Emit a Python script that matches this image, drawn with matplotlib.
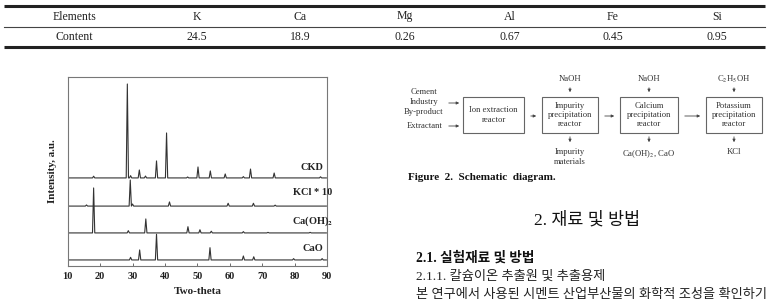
import matplotlib
matplotlib.use("Agg")
import matplotlib.pyplot as plt
from matplotlib.patches import Rectangle, FancyArrowPatch

plt.rcParams['mathtext.fontset'] = 'stix'

# ---------------- data ----------------
table_header = ["Elements", "K", "Ca", "Mg", "Al", "Fe", "Si"]
table_values = ["Content", "24.5", "18.9", "0.26", "0.67", "0.45", "0.95"]

two_theta_range = [10.5, 89.8]

ckd_base = 46.6
ckd_pos = [18.0, 28.4, 29.4, 32.1, 34.0, 37.4, 40.5, 47.0, 50.2, 54.0, 58.6, 64.2, 66.4, 73.7, 88.0]
ckd_hgt = [47.5, 96.3, 47.8, 50.8, 47.6, 55.6, 70.4, 47.1, 52.4, 50.3, 48.7, 47.3, 51.3, 49.2, 47.2]

kcl_base = 31.7
kcl_pos = [15.8, 29.3, 30.0, 41.4, 59.5, 67.3, 74.0]
kcl_hgt = [32.3, 45.5, 32.8, 33.9, 33.2, 33.2, 32.2]

caoh_base = 17.5
caoh_pos = [18.0, 28.7, 34.1, 47.1, 50.8, 54.3, 64.2, 71.8, 84.8]
caoh_hgt = [41.3, 18.7, 24.9, 20.8, 19.2, 18.4, 18.2, 17.8, 17.8]

cao_base = 3.2
cao_pos = [29.4, 32.2, 37.4, 53.9, 64.2, 67.4, 79.7, 88.5]
cao_hgt = [4.6, 8.5, 16.8, 9.7, 5.3, 4.9, 3.9, 3.9]

trace_labels = ["CKD", "KCl * 10", r"Ca(OH)$_\mathbf{2}$", "CaO"]
trace_label_y = [52.0, 39.0, 23.5, 9.5]
x_ticks = [10, 20, 30, 40, 50, 60, 70, 80, 90]

flow_inputs = ["Cement\nIndustry\nBy-product", "Extractant"]
flow_boxes = ["Ion extraction\nreactor", "Impurity\nprecipitation\nreactor",
              "Calcium\nprecipitation\nreactor", "Potassium\nprecipitation\nreactor"]
flow_top = [None, "NaOH", "NaOH", r"C$_2$H$_5$OH"]
flow_bottom = [None, "Impurity\nmaterials", r"Ca(OH)$_2$, CaO", "KCl"]

# ---------------- figure ----------------
W, H = 769, 307
fig = plt.figure(figsize=(W / 100, H / 100), dpi=100)
fig.patch.set_facecolor('white')

serif = ['Liberation Serif', 'DejaVu Serif']
kfam = ['Liberation Serif', 'Noto Sans CJK KR']

# overlay in pixel coordinates
ov = fig.add_axes([0, 0, 1, 1])
ov.set_xlim(0, W)
ov.set_ylim(H, 0)
ov.axis('off')

# table
ov.plot([4, 765], [5.5, 5.5], color='#222', lw=2.2, solid_capstyle='butt')
ov.plot([4, 765], [26.5, 26.5], color='#444', lw=0.8)
ov.plot([4, 765], [47, 47], color='#222', lw=2.2, solid_capstyle='butt')
col_x = [74, 197, 300, 405, 510, 613, 717]
for cx, h, v in zip(col_x, table_header, table_values):
    ov.text(cx, 16.5, h, ha='center', va='center', fontsize=8.5, family=serif, color='#222')
    ov.text(cx, 37.5, v, ha='center', va='center', fontsize=8.5, family=serif, color='#222')

# XRD chart
ax = fig.add_axes([67.7 / W, (H - 266) / H, (327 - 67.7) / W, (266 - 77) / H])
traces = [(ckd_base, ckd_pos, ckd_hgt), (kcl_base, kcl_pos, kcl_hgt),
          (caoh_base, caoh_pos, caoh_hgt), (cao_base, cao_pos, cao_hgt)]
hw = 0.35
for base, pos, hgt in traces:
    xs = [two_theta_range[0]]
    ys = [base]
    for p, h in zip(pos, hgt):
        xs += [p - hw, p, p + hw]
        ys += [base, h, base]
    xs.append(two_theta_range[1])
    ys.append(base)
    ax.plot(xs, ys, color='#333', lw=0.8)
for lab, ly in zip(trace_labels, trace_label_y):
    ax.text(85.5, ly, lab, ha='center', va='center', fontsize=7.5,
            family=serif, fontweight='bold', color='#222')
ax.set_xlim(10, 90)
ax.set_ylim(0, 100)
ax.set_xticks(x_ticks)
ax.set_yticks([])
ax.tick_params(axis='x', direction='in', length=2, width=0.6, pad=4, colors='#555', labelcolor='#222')
for lbl in ax.get_xticklabels():
    lbl.set_fontfamily(serif)
    lbl.set_fontweight('bold')
    lbl.set_fontsize(7.5)
for s in ax.spines.values():
    s.set_color('#777')
    s.set_linewidth(0.8)
ax.set_xlabel("Two-theta", fontsize=8, family=serif, fontweight='bold', color='#222', labelpad=5)
ax.set_ylabel("Intensity, a.u.", fontsize=8, family=serif, fontweight='bold', color='#222', labelpad=8)

# schematic diagram
box_x = [(463, 524), (542, 598), (620, 678), (706, 762)]
by0, by1 = 97, 133
fs = 6.2
for (x0, x1), txt, top, bot in zip(box_x, flow_boxes, flow_top, flow_bottom):
    ov.add_patch(Rectangle((x0, by0), x1 - x0, by1 - by0, fill=False, ec='#666', lw=0.8))
    cx = (x0 + x1) / 2
    ov.text(cx, (by0 + by1) / 2, txt, ha='center', va='center', fontsize=fs,
            family=serif, color='#333', linespacing=1.25)
    if top is not None:
        ov.text(cx, 79, top, ha='center', va='center', fontsize=fs, family=serif, color='#333')
        ov.add_patch(FancyArrowPatch((cx, 85), (cx, 95), arrowstyle='-|>', mutation_scale=4,
                                     color='#444', lw=0.6))
    if bot is not None:
        ov.add_patch(FancyArrowPatch((cx, 134), (cx, 145), arrowstyle='-|>', mutation_scale=4,
                                     color='#444', lw=0.6))
        ov.text(cx, 148, bot, ha='center', va='top', fontsize=fs, family=serif, color='#333',
                linespacing=1.3)
# horizontal arrows between boxes
for (a0, a1), (b0, b1) in zip(box_x[:-1], box_x[1:]):
    ov.add_patch(FancyArrowPatch((a1 + 4, 116), (b0 - 3, 116), arrowstyle='-|>', mutation_scale=4,
                                 color='#444', lw=0.6))
ov.text(424, 102, flow_inputs[0], ha='center', va='center', fontsize=fs, family=serif,
        color='#333', linespacing=1.25)
ov.text(425, 126, flow_inputs[1], ha='center', va='center', fontsize=fs, family=serif, color='#333')
ov.add_patch(FancyArrowPatch((446, 103), (462, 103), arrowstyle='-|>', mutation_scale=4, color='#444', lw=0.6))
ov.add_patch(FancyArrowPatch((446, 126), (462, 126), arrowstyle='-|>', mutation_scale=4, color='#444', lw=0.6))

ov.text(408, 177, "Figure  2.  Schematic  diagram.", ha='left', va='center', fontsize=8,
        family=serif, fontweight='bold', color='#111')

# Korean text
ov.text(587, 220, "2. 재료 및 방법", ha='center', va='center', fontsize=12.5, family=kfam, color='#111')
ov.text(416, 258, "2.1. 실험재료 및 방법", ha='left', va='center', fontsize=9.8, family=kfam,
        fontweight='bold', color='#111')
ov.text(416, 277, "2.1.1. 칼슘이온 추출원 및 추출용제", ha='left', va='center', fontsize=9.5,
        family=kfam, color='#222')
ov.text(416, 295, "본 연구에서 사용된 시멘트 산업부산물의 화학적 조성을 확인하기", ha='left', va='center',
        fontsize=9.5, family=kfam, color='#222')

fig.savefig("out.png", dpi=100)
